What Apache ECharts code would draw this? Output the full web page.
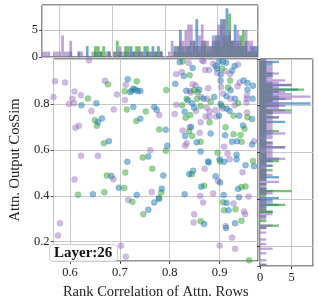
<!DOCTYPE html>
<html><head><meta charset="utf-8">
<script src="https://cdn.jsdelivr.net/npm/echarts@6/dist/echarts.min.js"></script>
<style>html,body{margin:0;padding:0;background:#fff}#c{width:319px;height:305px}</style>
</head><body><div id="c"></div>
<script>
// scatter points per series: [rank correlation, cosine similarity]
const purplePts = [
[0.638,0.990],[0.570,0.899],[0.590,0.894],[0.567,0.831],[0.670,0.901],[0.694,0.841],[0.609,0.854],[0.622,0.838],
[0.605,0.823],[0.598,0.800],[0.608,0.803],[0.643,0.770],[0.688,0.776],[0.618,0.705],[0.611,0.697],[0.622,0.574],
[0.656,0.574],[0.838,0.979],[0.712,0.884],[0.813,0.930],[0.824,0.939],[0.842,0.850],[0.710,0.817],[0.813,0.797],
[0.779,0.752],[0.810,0.756],[0.826,0.685],[0.834,0.629],[0.831,0.618],[0.761,0.599],[0.764,0.417],[0.717,0.382],
[0.712,0.135],[0.609,0.471],[0.687,0.472],[0.580,0.281],[0.576,0.227],[0.614,0.115],[0.702,0.182],[0.920,0.559],
[0.870,0.518],[0.897,0.465],[0.946,0.503],[0.887,0.410],[0.861,0.399],[0.867,0.371],[0.958,0.397],[0.928,0.367],
[0.949,0.332],[0.951,0.320],[0.849,0.320],[0.848,0.284],[0.912,0.268],[0.925,0.218],[0.900,0.183],[0.931,0.169],
[0.904,0.115],[0.868,0.986],[0.937,0.972],[0.871,0.948],[0.879,0.948],[0.895,0.936],[0.912,0.943],[0.921,0.931],
[0.940,0.894],[0.846,0.886],[0.852,0.881],[0.841,0.857],[0.863,0.831],[0.877,0.869],[0.903,0.874],[0.936,0.877],
[0.875,0.823],[0.907,0.845],[0.922,0.823],[0.955,0.837],[0.954,0.823],[0.954,0.806],[0.907,0.780],[0.930,0.794],
[0.874,0.784],[0.880,0.767],[0.892,0.773],[0.853,0.770],[0.872,0.745],[0.880,0.745],[0.893,0.745],[0.955,0.763],
[0.862,0.720],[0.840,0.699],[0.860,0.675],[0.969,0.638],[0.909,0.614],[0.916,0.584],[0.865,0.990],[0.887,0.975]
];
const bluePts = [
[0.623,0.794],[0.653,0.803],[0.664,0.737],[0.656,0.720],[0.678,0.638],[0.820,0.983],[0.716,0.908],[0.828,0.922],
[0.811,0.888],[0.721,0.852],[0.727,0.867],[0.731,0.862],[0.736,0.857],[0.741,0.857],[0.833,0.858],[0.836,0.816],
[0.727,0.787],[0.769,0.787],[0.774,0.774],[0.830,0.766],[0.741,0.736],[0.792,0.688],[0.831,0.661],[0.795,0.618],
[0.757,0.571],[0.715,0.548],[0.787,0.489],[0.734,0.404],[0.784,0.431],[0.778,0.391],[0.769,0.371],[0.757,0.339],
[0.830,0.407],[0.839,0.495],[0.683,0.486],[0.698,0.435],[0.646,0.407],[0.878,0.545],[0.909,0.548],[0.934,0.559],
[0.847,0.509],[0.892,0.485],[0.901,0.458],[0.952,0.533],[0.969,0.529],[0.863,0.440],[0.908,0.403],[0.937,0.430],
[0.939,0.394],[0.914,0.369],[0.918,0.337],[0.869,0.277],[0.931,0.281],[0.913,0.260],[0.899,0.984],[0.907,0.984],
[0.913,0.980],[0.846,0.957],[0.892,0.965],[0.902,0.928],[0.925,0.945],[0.948,0.902],[0.956,0.891],[0.956,0.862],
[0.967,0.880],[0.859,0.862],[0.902,0.901],[0.922,0.860],[0.868,0.823],[0.889,0.831],[0.914,0.834],[0.931,0.823],
[0.966,0.823],[0.845,0.803],[0.849,0.784],[0.902,0.800],[0.914,0.780],[0.920,0.770],[0.899,0.749],[0.939,0.749],
[0.965,0.735],[0.947,0.706],[0.882,0.671],[0.911,0.664],[0.925,0.635],[0.965,0.624],[0.854,0.633],[0.935,0.638],
[0.862,0.593],[0.934,0.579],[0.877,0.550],[0.900,0.559],[0.930,0.965],[0.895,0.955],[0.843,0.700]
];
const greenPts = [
[0.676,0.886],[0.636,0.824],[0.650,0.729],[0.654,0.705],[0.668,0.629],[0.734,0.899],[0.840,0.925],[0.710,0.855],
[0.724,0.858],[0.793,0.861],[0.834,0.823],[0.825,0.794],[0.714,0.776],[0.752,0.767],[0.832,0.740],[0.733,0.726],
[0.779,0.689],[0.839,0.681],[0.792,0.596],[0.746,0.567],[0.711,0.502],[0.765,0.518],[0.709,0.434],[0.783,0.414],
[0.779,0.386],[0.725,0.374],[0.747,0.320],[0.674,0.488],[0.616,0.405],[0.669,0.416],[0.901,0.550],[0.844,0.494],
[0.967,0.552],[0.869,0.444],[0.952,0.441],[0.944,0.438],[0.907,0.372],[0.909,0.337],[0.932,0.341],[0.862,0.289],
[0.944,0.291],[0.959,0.119],[0.849,0.860],[0.856,0.851],[0.921,0.902],[0.917,0.872],[0.855,0.823],[0.882,0.809],
[0.862,0.791],[0.904,0.791],[0.937,0.803],[0.841,0.752],[0.928,0.749],[0.956,0.742],[0.880,0.720],[0.912,0.699],
[0.950,0.692],[0.845,0.661],[0.928,0.668],[0.942,0.665],[0.862,0.635],[0.944,0.635],[0.896,0.588],[0.826,0.985],[0.905,0.955]
];

// marginal histogram counts
const xBinStart = 0.567, xBinWidth = 0.0052;   // 79 bins along rank correlation
const purpleXCounts = [1,1,1,0,1,1,1,4,1,1,3,0,0,1,1,0,0,0,1,0,1,0,0,1,1,0,1,1,2,1,0,1,1,0,1,1,1,0,1,1,1,0,1,1,0,0,1,3,1,2,3,3,5,6,6,3,2,4,6,3,3,2,4,3,6,6,7,4,5,3,3,5,3,2,5,3,3,2,1];
const blueXCounts   = [0,0,0,0,0,0,0,0,0,0,1,0,0,1,0,0,2,0,0,1,0,1,0,0,1,0,0,0,1,0,1,0,2,1,0,1,0,2,1,0,2,1,2,1,0,0,0,0,2,1,5,2,1,2,3,2,7,2,3,2,1,2,3,4,3,7,4,9,4,3,6,3,2,2,3,1,2,2,2];
const greenXCounts  = [0,0,0,0,0,0,0,0,0,0,0,0,0,0,0,0,0,0,0,2,2,1,2,0,1,0,1,3,1,0,2,2,0,1,2,2,1,0,2,1,0,1,0,1,0,0,0,0,1,2,2,1,2,2,1,3,2,1,2,3,2,1,2,3,4,2,7,3,8,3,2,2,4,5,2,1,1,1,1];
const yBinStart = 0.116, yBinWidth = 0.0098;   // 90 bins along cosine similarity
const purpleYCounts = [1,0,1,0,0,1,0,2,0,1,0,1,0,0,1,0,1,2,0,0,1,1,2,0,1,1,1,2,1,1,0,2,1,1,1,1,3,1,1,2,1,1,1,2,1,2,4,2,2,2,2,4,2,2,1,2,2,4,2,2,2,2,2,2,3,2,5,4,3,4,3,3,5,8,5,4,3,3,5,3,4,2,2,3,2,2,2,1,2,1];
const blueYCounts   = [0,0,0,0,0,0,0,0,0,0,0,0,0,0,0,0,1,0,0,0,0,0,0,2,0,1,3,1,2,3,0,1,2,1,0,1,0,1,3,1,1,1,0,2,1,2,3,1,1,0,1,4,1,2,1,1,1,2,1,1,1,1,4,1,2,1,2,2,1,3,8,2,4,3,2,3,6,2,5,2,1,1,2,2,1,1,1,2,3,1];
const greenYCounts  = [1,0,0,0,0,0,0,0,0,0,0,0,0,0,0,0,0,3,0,1,0,1,0,2,1,0,4,0,1,0,1,1,5,1,0,1,0,1,1,1,1,2,1,0,1,3,1,1,1,1,0,1,1,1,1,0,1,1,3,1,1,1,1,1,3,1,2,5,1,2,1,2,3,2,2,2,7,2,2,1,1,1,1,2,1,1,1,1,1,0];

const xRange = [0.567, 0.977];
const yRange = [0.116, 0.996];
const labelText = 'Layer:26';
const xTitle = 'Rank Correlation of Attn. Rows';
const yTitle = 'Attn. Output CosSim';

const COLORS = {purple:'rgba(148,103,189,0.6)', blue:'rgba(31,119,180,0.65)', green:'rgba(44,160,44,0.65)'};
const PT = {purple:'rgba(148,103,189,0.55)', blue:'rgba(31,119,180,0.62)', green:'rgba(44,160,44,0.6)'};
const FONT = 'Liberation Serif';

function bins(counts, start, width){
  const out = [];
  counts.forEach((k, i) => { if (k > 0) out.push([start + i*width, start + (i+1)*width, k]); });
  return out;
}
const xHist = [['blue', blueXCounts], ['green', greenXCounts], ['purple', purpleXCounts]];
const yHist = [['blue', blueYCounts], ['green', greenYCounts], ['purple', purpleYCounts]];

const chart = echarts.init(document.getElementById('c'), null, {renderer:'canvas'});
const tickLabel = {fontFamily: FONT, fontSize: 12.5, color:'#222'};
const splitLine = {show:true, lineStyle:{color:'#c8c8c8', width:1}};
const tick = {show:true, length:3, inside:false, lineStyle:{color:'#222', width:0.8}};
const series = [];
xHist.forEach(([name, counts]) => {
  series.push({type:'custom', xAxisIndex:1, yAxisIndex:1, data: bins(counts, xBinStart, xBinWidth),
    encode:{x:[0,1], y:2}, clip:true,
    renderItem:(params, api) => {
      const a = api.coord([api.value(0), 0]), b = api.coord([api.value(1), api.value(2)]);
      return {type:'rect', shape:{x:a[0], y:b[1], width:b[0]-a[0], height:a[1]-b[1]}, style:{fill:COLORS[name]}};
    }});
});
yHist.forEach(([name, counts]) => {
  series.push({type:'custom', xAxisIndex:2, yAxisIndex:2, data: bins(counts, yBinStart, yBinWidth),
    encode:{y:[0,1], x:2}, clip:true,
    renderItem:(params, api) => {
      const a = api.coord([0, api.value(0)]), b = api.coord([api.value(2), api.value(1)]);
      return {type:'rect', shape:{x:a[0], y:b[1], width:b[0]-a[0], height:a[1]-b[1]}, style:{fill:COLORS[name]}};
    }});
});
[['purple', purplePts], ['green', greenPts], ['blue', bluePts]].forEach(([name, pts]) => {
  series.push({type:'scatter', xAxisIndex:0, yAxisIndex:0, data: pts, symbolSize:6,
    itemStyle:{color:PT[name], borderColor:PT[name], borderWidth:0.5}});
});

chart.setOption({
  animation:false,
  title:{text:labelText, left:49, top:244, padding:[2,5,1,5], backgroundColor:'rgba(255,255,255,0.85)',
    borderColor:'#cccccc', borderWidth:1, borderRadius:4,
    textStyle:{fontFamily:FONT, fontWeight:'bold', fontSize:15, color:'#111'}},
  grid:[
    {left:42, top:59, width:216, height:207, show:true, borderColor:'#222', borderWidth:1, backgroundColor:'transparent'},
    {left:42, top:5, width:216, height:52, show:true, borderColor:'#222', borderWidth:1, backgroundColor:'transparent'},
    {left:260, top:59, width:53, height:207, show:true, borderColor:'#222', borderWidth:1, backgroundColor:'transparent'}
  ],
  xAxis:[
    {type:'value', gridIndex:0, min:xRange[0], max:xRange[1], splitNumber:5, axisLine:{show:false}, axisTick:tick, splitLine,
      axisLabel:{...tickLabel, margin:5, showMinLabel:false, showMaxLabel:false},
      name:xTitle, nameLocation:'middle', nameGap:24, nameTextStyle:{fontFamily:FONT, fontSize:14.5, color:'#222'}},
    {type:'value', gridIndex:1, min:xRange[0], max:xRange[1], splitNumber:5, axisLine:{show:false}, axisTick:{show:false}, splitLine,
      axisLabel:{show:false}},
    {type:'value', gridIndex:2, min:0, max:8.4, interval:5, axisLine:{show:false}, axisTick:tick, splitLine,
      axisLabel:{...tickLabel, margin:5, showMaxLabel:false}}
  ],
  yAxis:[
    {type:'value', gridIndex:0, min:yRange[0], max:yRange[1], splitNumber:5, axisLine:{show:false}, axisTick:tick, splitLine,
      axisLabel:{...tickLabel, margin:4, showMinLabel:false, showMaxLabel:false},
      name:yTitle, nameLocation:'middle', nameGap:28, nameTextStyle:{fontFamily:FONT, fontSize:14.5, color:'#222'}},
    {type:'value', gridIndex:1, min:0, max:9.6, interval:5, axisLine:{show:false}, axisTick:tick, splitLine,
      axisLabel:{...tickLabel, margin:4, showMaxLabel:false}},
    {type:'value', gridIndex:2, min:yRange[0], max:yRange[1], splitNumber:5, axisLine:{show:false}, axisTick:tick, splitLine,
      axisLabel:{show:false}}
  ],
  series
});
</script></body></html>
